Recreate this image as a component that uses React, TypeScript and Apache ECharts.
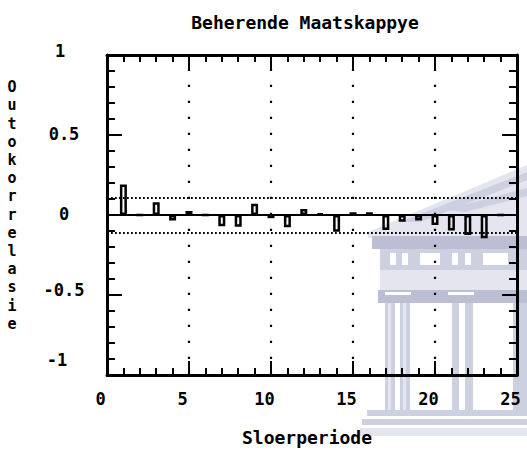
import React, { useEffect, useRef } from "react";
import * as echarts from "echarts";

const titleText = "Beherende Maatskappye";
const xName = "Sloerperiode";
const yName = "Outokorrelasie";
const lags = [1, 2, 3, 4, 5, 6, 7, 8, 9, 10, 11, 12, 13, 14, 15, 16, 17, 18, 19, 20, 21, 22, 23, 24];
const acf = [0.19, 0.0, 0.08, -0.035, 0.025, 0.0, -0.07, -0.073, 0.07, -0.02, -0.077, 0.037, 0.008, -0.105, 0.017, 0.017, -0.094, -0.042, -0.035, -0.062, -0.097, -0.125, -0.145, 0.0];
const confUpper = 0.112;
const confLower = -0.106;
const refLags = [5, 10, 15, 20];

const FONT = "'DejaVu Sans Mono', monospace";
const WM_DARK = "#bcbfd4";
const WM_MID = "#cdd0e0";
const WM_LIGHT = "#e4e5ef";

function watermark(): any[] {
  const r = (x: number, y: number, w: number, h: number, fill: string) => ({
    type: "rect",
    z: -10,
    silent: true,
    shape: { x, y, width: w, height: h },
    style: { fill },
  });
  const p = (pts: number[][], fill: string) => ({
    type: "polygon",
    z: -10,
    silent: true,
    shape: { points: pts },
    style: { fill },
  });
  return [
    p([[368, 232], [527, 165], [527, 238], [368, 238]], WM_LIGHT),
    p([[400, 222], [527, 172], [527, 180], [420, 222]], WM_MID),
    p([[445, 210], [527, 188], [527, 196], [465, 212]], WM_MID),
    r(372, 236, 155, 13, WM_DARK),
    r(380, 249, 147, 21, WM_MID),
    r(390, 253, 6, 12, "#ffffff"),
    r(402, 253, 6, 12, "#ffffff"),
    r(420, 253, 20, 12, "#ffffff"),
    r(452, 253, 6, 12, "#ffffff"),
    r(465, 253, 6, 12, "#ffffff"),
    r(483, 253, 25, 12, "#ffffff"),
    r(380, 270, 147, 20, WM_LIGHT),
    r(378, 290, 149, 13, WM_DARK),
    r(385, 292, 26, 3, "#ffffff"),
    r(448, 292, 26, 3, "#ffffff"),
    r(385, 303, 10, 107, WM_MID),
    r(388, 303, 3, 107, WM_LIGHT),
    r(400, 303, 10, 107, WM_MID),
    r(403, 303, 3, 107, WM_LIGHT),
    r(452, 303, 7, 107, WM_MID),
    r(465, 303, 8, 107, WM_MID),
    r(513, 303, 14, 107, WM_MID),
    r(367, 410, 160, 6, WM_MID),
    r(362, 419, 165, 6, WM_MID),
    r(360, 428, 167, 8, WM_LIGHT),
  ];
}

function yLabel(v: number): string {
  const s = String(v);
  if (v === 1) return `{top|${s}}`;
  if (v === -1) return `{bot|${s}}`;
  if (v === -0.5) return `{neg|${s}}`;
  return `{n|${s}}`;
}

export default function App() {
  const ref = useRef<HTMLDivElement>(null);
  useEffect(() => {
    if (!ref.current) return;
    const chart = echarts.init(ref.current, null, { renderer: "svg" });
    const axisBase = {
      min: 0,
      max: 25,
      interval: 5,
      axisLine: { show: true, onZero: false, lineStyle: { color: "#000", width: 3 } },
      axisTick: { show: true, inside: true, length: 14, lineStyle: { color: "#000", width: 2 } },
      minorTick: { show: true, splitNumber: 5, length: 7, lineStyle: { color: "#000", width: 2 } },
      splitLine: { show: false },
    };
    const yBase = {
      min: -1,
      max: 1,
      interval: 0.5,
      axisLine: { show: true, onZero: false, lineStyle: { color: "#000", width: 3 } },
      axisTick: { show: true, inside: true, length: 15, lineStyle: { color: "#000", width: 2 } },
      minorTick: { show: true, splitNumber: 5, length: 8, lineStyle: { color: "#000", width: 2 } },
      splitLine: { show: false },
    };
    const labelFont = { color: "#000", fontFamily: FONT, fontWeight: "bold", fontSize: 17 };
    const option: any = {
      animation: false,
      backgroundColor: "#ffffff",
      grid: { left: 107, right: 10, top: 55, bottom: 78 },
      xAxis: [
        {
          type: "value",
          position: "bottom",
          ...axisBase,
          axisLabel: {
            show: true,
            ...labelFont,
            margin: 15,
            padding: [0, 13, 0, 0],
          },
        },
        { type: "value", position: "top", ...axisBase, axisLabel: { show: false } },
      ],
      yAxis: [
        {
          type: "value",
          position: "left",
          ...yBase,
          axisLabel: {
            show: true,
            ...labelFont,
            margin: 43,
            align: "center",
            formatter: yLabel,
            rich: {
              n: { ...labelFont, padding: [0, 0, 2, 0] },
              top: { ...labelFont, padding: [0, 8, 8, 0] },
              neg: { ...labelFont, padding: [0, 0, 10, 0] },
              bot: { ...labelFont, padding: [0, 14, 30, 0] },
            },
          },
        },
        { type: "value", position: "right", ...yBase, axisLabel: { show: false } },
      ],
      graphic: [
        ...watermark(),
        {
          type: "text",
          x: 305,
          y: 22,
          style: {
            text: titleText,
            fill: "#000",
            font: `bold 18px ${FONT}`,
            align: "center",
            verticalAlign: "middle",
          },
        },
        {
          type: "text",
          x: 307,
          y: 437,
          style: {
            text: xName,
            fill: "#000",
            font: `bold 18px ${FONT}`,
            align: "center",
            verticalAlign: "middle",
          },
        },
        {
          type: "text",
          x: 12,
          y: 78,
          style: {
            text: yName.split("").join("\n"),
            fill: "#000",
            font: `bold 15px ${FONT}`,
            lineHeight: 18.2,
            align: "center",
            verticalAlign: "top",
          },
        },
      ],
      series: [
        {
          type: "bar",
          xAxisIndex: 0,
          yAxisIndex: 0,
          barWidth: 7,
          data: lags.map((l, i) => [l, acf[i]]),
          itemStyle: { color: "rgba(255,255,255,0)", borderColor: "#000", borderWidth: 2.5 },
          z: 3,
          markLine: {
            silent: true,
            symbol: "none",
            label: { show: false },
            data: [
              { yAxis: 0, lineStyle: { color: "#000", width: 2, type: "solid" } },
              { yAxis: confUpper, lineStyle: { color: "#000", width: 1.8, type: [1.8, 2.2] } },
              { yAxis: confLower, lineStyle: { color: "#000", width: 1.8, type: [1.8, 2.2] } },
              ...refLags.map((v) => ({ xAxis: v, lineStyle: { color: "#000", width: 2.2, type: [2.2, 13.8] } })),
            ],
          },
        },
      ],
    };
    chart.setOption(option);
    return () => chart.dispose();
  }, []);
  return (
    <div
      ref={ref}
      style={{ position: "fixed", left: 0, top: 0, width: 527, height: 453, background: "#fff" }}
    />
  );
}
